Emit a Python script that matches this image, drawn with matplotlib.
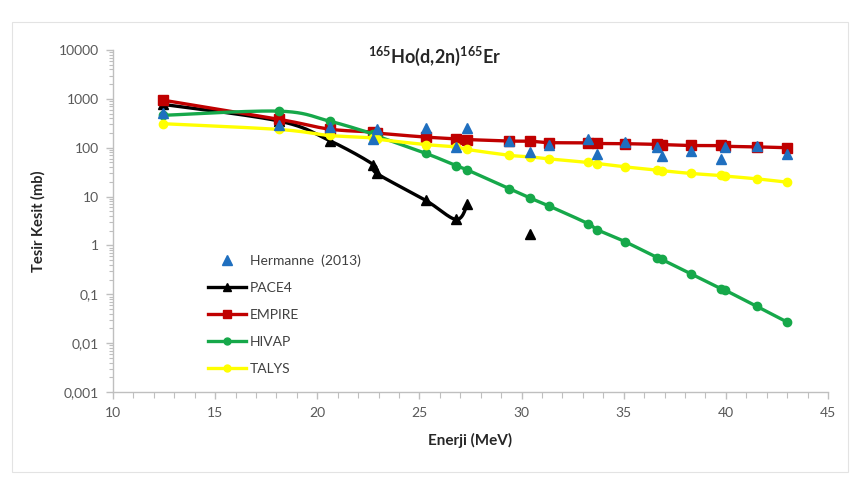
import numpy as np
import matplotlib
matplotlib.use("Agg")
import matplotlib.pyplot as plt
from matplotlib.ticker import FixedLocator, FixedFormatter, MultipleLocator, LogLocator, NullFormatter
from matplotlib.lines import Line2D
from matplotlib.patches import Rectangle

# ---------------- data ----------------
energy = [12.45, 18.15, 20.6, 22.75, 22.9, 25.3, 26.8, 27.35, 29.4, 30.4, 31.35,
          33.25, 33.7, 35.05, 36.65, 36.85, 38.3, 39.75, 39.95, 41.5, 43.0]

hermanne = [520, 290, 265, 150, 236, 258, 105, 258, 136, 82, 116,
            152, 74, 128, 104, 68, 86, 58, 104, 110, 74]

pace4 = [770, 350, 140, 45, 30, 8.4, 3.4, 6.9, None, 1.7, None,
         None, None, None, None, None, None, None, None, None, None]

empire = [940, 380, 240, 210, 200, 165, 152, 147, 137, 136, 127,
          126, 122, 121, 117, 116, 111, 111, 107, 104, 100]

hivap = [460, 560, 350, 190, 175, 77, 43, 35, 14.4, 9.4, 6.4,
         2.8, 2.1, 1.2, 0.56, 0.52, 0.26, 0.13, 0.122, 0.057, 0.027]

talys = [310, 236, 178, 160, 150, 116, 104, 92, 70, 65, 59,
         50, 47.5, 40.6, 34.7, 34, 29.7, 27, 26.3, 23.1, 19.7]

ytick_vals = [0.001, 0.01, 0.1, 1, 10, 100, 1000, 10000]
ytick_labels = ["0,001", "0,01", "0,1", "1", "10", "100", "1000", "10000"]
xtick_vals = [10, 15, 20, 25, 30, 35, 40, 45]

title_text = r"$^{\mathbf{165}}$Ho(d,2n)$^{\mathbf{165}}$Er"
xlabel = "Enerji (MeV)"
ylabel = "Tesir Kesit (mb)"

# ---------------- style ----------------
plt.rcParams['font.family'] = ['Lato', 'DejaVu Sans']
plt.rcParams['mathtext.fontset'] = 'custom'
plt.rcParams['mathtext.bf'] = 'Lato:bold'
plt.rcParams['mathtext.rm'] = 'Lato'

W, H = 860, 484
fig = plt.figure(figsize=(W / 100, H / 100), dpi=100)
left, right, top, bottom = 113, 828, 50, 392
ax = fig.add_axes([left / W, 1 - bottom / H, (right - left) / W, (bottom - top) / H])
ax.set_yscale('log')
ax.set_xlim(10, 45)
ax.set_ylim(0.001, 10000)

AXW, AXH = right - left, bottom - top
XMIN, XMAX, LMIN, LMAX = 10, 45, -3, 4


def smooth_segments(xs, ys, n=24):
    """Excel-like smoothed line (Catmull-Rom in display space), split at gaps."""
    segs, cur = [], []
    for x, y in zip(xs, ys):
        if y is None:
            if cur:
                segs.append(cur)
            cur = []
        else:
            cur.append((x, y))
    if cur:
        segs.append(cur)
    out = []
    for seg in segs:
        if len(seg) < 2:
            continue
        p = np.array([[(x - XMIN) / (XMAX - XMIN) * AXW,
                       (np.log10(y) - LMIN) / (LMAX - LMIN) * AXH] for x, y in seg])
        pts = []
        m = len(p)
        for i in range(m - 1):
            p0 = p[i - 1] if i > 0 else p[i]
            p1, p2 = p[i], p[i + 1]
            p3 = p[i + 2] if i + 2 < m else p[i + 1]
            c1 = p1 + (p2 - p0) / 6.0
            c2 = p2 - (p3 - p1) / 6.0
            t = np.linspace(0, 1, n)[:, None]
            b = ((1 - t) ** 3) * p1 + 3 * ((1 - t) ** 2) * t * c1 + 3 * (1 - t) * t ** 2 * c2 + t ** 3 * p2
            pts.append(b if i == 0 else b[1:])
        pts = np.vstack(pts)
        sx = XMIN + pts[:, 0] / AXW * (XMAX - XMIN)
        sy = 10 ** (LMIN + pts[:, 1] / AXH * (LMAX - LMIN))
        out.append((sx, sy))
    return out


series = [
    ("PACE4", pace4, 'black', '^', 7, 2),
    ("EMPIRE", empire, '#C00000', 's', 6.5, 3),
    ("HIVAP", hivap, '#16A84A', 'o', 6, 4),
    ("TALYS", talys, '#FFFF00', 'o', 6, 5),
]

handles = [Line2D([], [], linestyle='none', marker='^', color='#1F6FBF', markersize=6.5)]
labels = ["Hermanne  (2013)"]
for name, vals, col, mk, ms, z in series:
    for sx, sy in smooth_segments(energy, vals):
        ax.plot(sx, sy, color=col, lw=2.4, zorder=z, solid_capstyle='round')
    ex = [e for e, v in zip(energy, vals) if v is not None]
    ev = [v for v in vals if v is not None]
    ax.plot(ex, ev, linestyle='none', marker=mk, color=col, markersize=ms, zorder=z + 0.5)
    handles.append(Line2D([], [], color=col, lw=2.4, marker=mk, markersize=ms - 1))
    labels.append(name)

ax.plot(energy, hermanne, linestyle='none', marker='^', color='#1F6FBF', markersize=7, zorder=7)

# axes styling
for s in ['top', 'right']:
    ax.spines[s].set_visible(False)
for s in ['left', 'bottom']:
    ax.spines[s].set_color('#BFBFBF')
    ax.spines[s].set_linewidth(1.0)

ax.yaxis.set_major_locator(FixedLocator(ytick_vals))
ax.yaxis.set_major_formatter(FixedFormatter(ytick_labels))
ax.yaxis.set_minor_locator(LogLocator(base=10, subs=np.arange(2, 10)))
ax.yaxis.set_minor_formatter(NullFormatter())
ax.xaxis.set_major_locator(FixedLocator(xtick_vals))
ax.xaxis.set_minor_locator(MultipleLocator(1))

ax.tick_params(axis='both', which='major', colors='#BFBFBF', labelcolor='#595959',
               labelsize=10, length=5, width=1, direction='out')
ax.tick_params(axis='both', which='minor', colors='#BFBFBF', length=4, width=0.8, direction='out')
ax.tick_params(axis='y', which='minor', length=3)
ax.tick_params(axis='y', which='major', pad=5)
ax.tick_params(axis='x', which='major', pad=6)

fig.text(38 / W, 1 - 221 / H, ylabel, rotation=90, ha='center', va='center',
         fontsize=10.5, fontweight='bold', color='#262626')
fig.text(470 / W, 1 - 440 / H, xlabel, ha='center', va='center',
         fontsize=11, fontweight='bold', color='#262626')
fig.text(435 / W, 1 - 56 / H, title_text, ha='center', va='center',
         fontsize=13, fontweight='bold', color='#262626')

leg = ax.legend(handles, labels, loc='upper left',
                bbox_to_anchor=(208 / W, 1 - 254 / H), bbox_transform=fig.transFigure,
                frameon=False, fontsize=10, handlelength=2.7, handletextpad=0.3,
                labelspacing=1.08, borderpad=0, borderaxespad=0)
for t in leg.get_texts():
    t.set_color('#404040')

fig.patches.append(Rectangle((12 / W, 1 - 472 / H), (848 - 12) / W, (472 - 22) / H,
                             transform=fig.transFigure, fill=False,
                             edgecolor='#E3E3E3', lw=0.8))

fig.savefig('out.png', dpi=100)
